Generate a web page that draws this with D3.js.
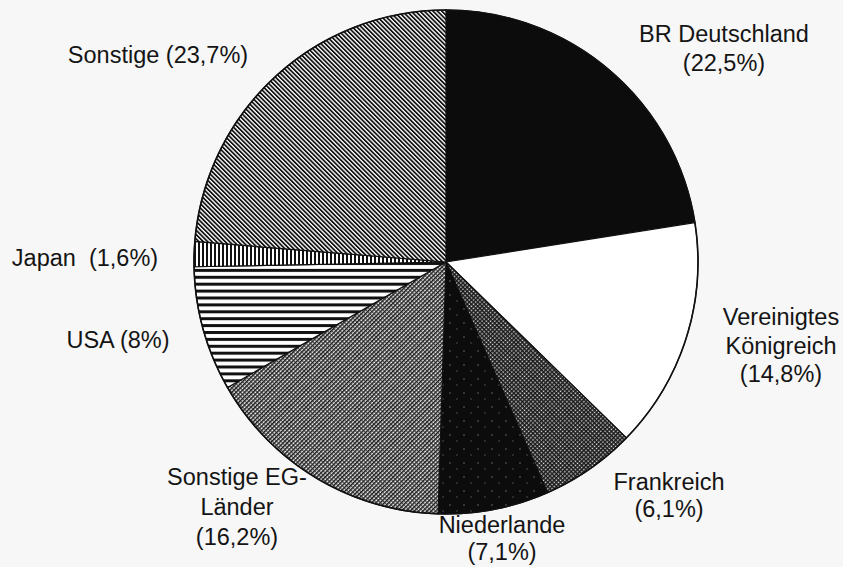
<!DOCTYPE html>
<html>
<head>
<meta charset="utf-8">
<script src="https://cdn.jsdelivr.net/npm/d3@7"></script>
<style>
  html, body { margin: 0; padding: 0; background: #f7f7f7; }
  svg { display: block; }
  text { font-family: "Liberation Sans", Arial, Helvetica, sans-serif; font-size: 23.5px; fill: #141414; white-space: pre; }
</style>
</head>
<body>
<svg id="chart" width="843" height="567"></svg>
<script>
// ---- data ----
const categories = ["BR Deutschland", "Vereinigtes Königreich", "Frankreich", "Niederlande",
                    "Sonstige EG-Länder", "USA", "Japan", "Sonstige"];
const values = [22.5, 14.8, 6.1, 7.1, 16.2, 8, 1.6, 23.7];
const labelLines = [
  ["BR Deutschland"],
  ["Vereinigtes", "Königreich"],
  ["Frankreich"],
  ["Niederlande"],
  ["Sonstige EG-", "Länder"],
  ["USA"],
  ["Japan "],
  ["Sonstige"]
];
const pctOnSameLine = [false, false, false, false, false, true, true, true];

// ---- layout (label anchors: centre x, first baseline y, line step) ----
const labelLayout = [
  {x: 724, y: 42, dy: 29},
  {x: 781, y: 325, dy: 28.5},
  {x: 669, y: 490, dy: 27},
  {x: 502, y: 533, dy: 27},
  {x: 237, y: 485, dy: 30},
  {x: 118, y: 348, dy: 28},
  {x: 85, y: 266, dy: 28},
  {x: 158, y: 63, dy: 28}
];
const fills = ["url(#pBlack)", "#ffffff", "url(#pDots)", "url(#pNl)",
               "url(#pCross)", "url(#pHoriz)", "url(#pVert)", "url(#pDiag)"];

const svg = d3.select("#chart");
const cx = 446, cy = 262, R = 252;

// ---- patterns ----
const defs = svg.append("defs");
function linePattern(id, period, lw, angle, bg) {
  const p = defs.append("pattern").attr("id", id)
    .attr("patternUnits", "userSpaceOnUse")
    .attr("width", period).attr("height", period)
    .attr("patternTransform", `rotate(${angle})`);
  p.append("rect").attr("width", period).attr("height", period).attr("fill", bg || "#fff");
  p.append("rect").attr("x", 0).attr("y", 0).attr("width", lw).attr("height", period).attr("fill", "#111");
  return p;
}
defs.append("pattern").attr("id", "pBlack").attr("patternUnits", "userSpaceOnUse")
  .attr("width", 10).attr("height", 10)
  .append("rect").attr("width", 10).attr("height", 10).attr("fill", "#0c0c0c");
linePattern("pDiag", 3.1, 1.75, -45);
linePattern("pVert", 4, 2, 0);
linePattern("pHoriz", 6.9, 3, 90);
{
  const p = defs.append("pattern").attr("id", "pCross").attr("patternUnits", "userSpaceOnUse")
    .attr("width", 3).attr("height", 3).attr("patternTransform", "rotate(45)");
  p.append("rect").attr("width", 3).attr("height", 3).attr("fill", "#f2f2f2");
  p.append("rect").attr("width", 1.5).attr("height", 3).attr("fill", "#151515");
  p.append("rect").attr("width", 3).attr("height", 0.8).attr("fill", "#2a2a2a");
}
{
  const p = defs.append("pattern").attr("id", "pDots").attr("patternUnits", "userSpaceOnUse")
    .attr("width", 3).attr("height", 3).attr("patternTransform", "rotate(45)");
  p.append("rect").attr("width", 3).attr("height", 3).attr("fill", "#1a1a1a");
  p.append("rect").attr("x", 0.6).attr("y", 0.6).attr("width", 1.4).attr("height", 1.4).attr("fill", "#e8e8e8");
}
{
  const p = defs.append("pattern").attr("id", "pNl").attr("patternUnits", "userSpaceOnUse")
    .attr("width", 14).attr("height", 14);
  p.append("rect").attr("width", 14).attr("height", 14).attr("fill", "#0c0c0c");
  p.append("circle").attr("cx", 4).attr("cy", 5).attr("r", 1).attr("fill", "#444");
  p.append("circle").attr("cx", 11).attr("cy", 11).attr("r", 0.9).attr("fill", "#3a3a3a");
}

// ---- pie ----
const pie = d3.pie().sort(null).value(d => d.v).startAngle(0).endAngle(2 * Math.PI);
const arc = d3.arc().innerRadius(0).outerRadius(R);
const data = categories.map((c, i) => ({c, v: values[i], i}));
const arcs = pie(data);

const g = svg.append("g").attr("transform", `translate(${cx},${cy})`);
g.selectAll("path.slice").data(arcs).join("path")
  .attr("class", "slice")
  .attr("d", arc)
  .attr("fill", d => fills[d.data.i])
  .attr("stroke", "#111")
  .attr("stroke-width", 1.2)
  .attr("stroke-linejoin", "round");
g.append("circle").attr("r", R).attr("fill", "none").attr("stroke", "#111").attr("stroke-width", 1.6);

// ---- labels ----
const fmt = v => "(" + String(v).replace(".", ",") + "%)";
const lg = svg.append("g");
data.forEach((d, i) => {
  let lines = labelLines[i].slice();
  if (pctOnSameLine[i]) lines[lines.length - 1] = lines[lines.length - 1] + " " + fmt(d.v);
  else lines.push(fmt(d.v));
  const L = labelLayout[i];
  const t = lg.append("text").attr("text-anchor", "middle");
  lines.forEach((s, k) => {
    t.append("tspan").attr("x", L.x).attr("y", L.y + k * L.dy).text(s);
  });
});
</script>
</body>
</html>
